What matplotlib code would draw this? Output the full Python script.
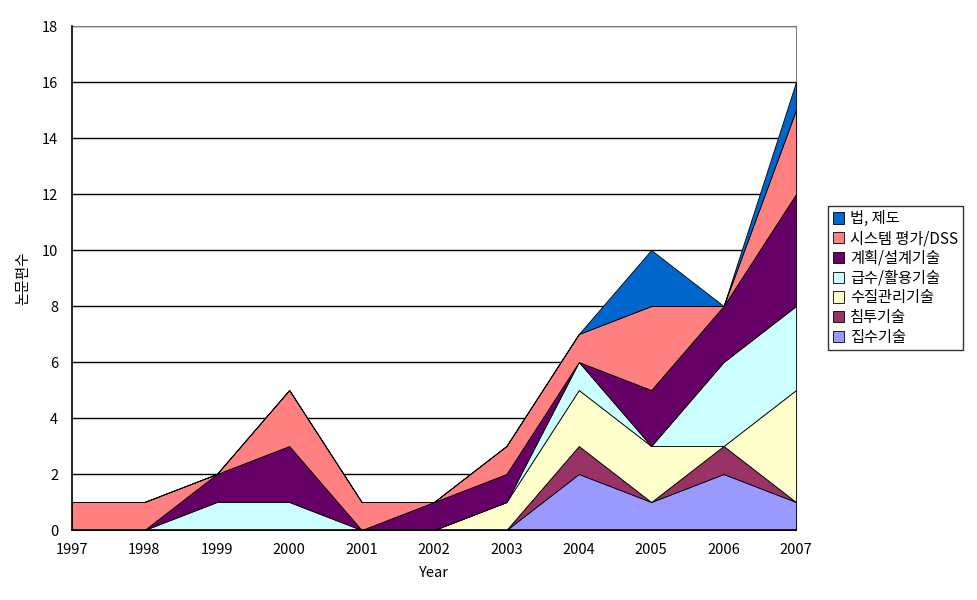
import numpy as np
import matplotlib.pyplot as plt

plt.rcParams['font.family'] = ['Noto Sans CJK KR', 'DejaVu Sans']

years = [1997, 1998, 1999, 2000, 2001, 2002, 2003, 2004, 2005, 2006, 2007]

jipsu = [0, 0, 0, 0, 0, 0, 0, 2, 1, 2, 1]        # 집수기술
chimtu = [0, 0, 0, 0, 0, 0, 0, 1, 0, 1, 0]       # 침투기술
sujil = [0, 0, 0, 0, 0, 0, 1, 2, 2, 0, 4]        # 수질관리기술
geupsu = [0, 0, 1, 1, 0, 0, 0, 1, 0, 3, 3]       # 급수/활용기술
gyehoek = [0, 0, 1, 2, 0, 1, 1, 0, 2, 2, 4]      # 계획/설계기술
system = [1, 1, 0, 2, 1, 0, 1, 1, 3, 0, 3]       # 시스템 평가/DSS
beop = [0, 0, 0, 0, 0, 0, 0, 0, 2, 0, 1]         # 법, 제도

series = [jipsu, chimtu, sujil, geupsu, gyehoek, system, beop]
labels = ['집수기술', '침투기술', '수질관리기술', '급수/활용기술',
          '계획/설계기술', '시스템 평가/DSS', '법, 제도']
colors = ['#9999FF', '#993366', '#FFFFCC', '#CCFFFF',
          '#660066', '#FF8080', '#0066CC']

fig = plt.figure(figsize=(9.77, 6), dpi=100)
ax = fig.add_axes([72 / 977, 70 / 600, 724 / 977, 504 / 600])

polys = ax.stackplot(years, *series, labels=labels, colors=colors,
                     edgecolor='black', linewidth=0.6, zorder=3)

ax.set_xlim(1997, 2007)
ax.set_ylim(0, 18)
ax.set_yticks(range(0, 19, 2))
ax.set_xticks(years)
ax.yaxis.grid(True, color='black', linewidth=1, zorder=1)
ax.tick_params(axis='both', direction='in', length=4, labelsize=10.5, colors='black')
ax.tick_params(axis='y', length=0, pad=10)
ax.tick_params(axis='x', pad=9)

for s in ['top', 'right']:
    ax.spines[s].set_color('#808080')
for s in ['left', 'bottom']:
    ax.spines[s].set_linewidth(1.2)
    ax.spines[s].set_zorder(5)

ax.set_xlabel('Year', fontsize=10.5, labelpad=7)
ax.set_ylabel('논문편수', fontsize=10.5)
ax.yaxis.set_label_coords(-0.058, 0.5)

handles, labs = ax.get_legend_handles_labels()
leg = ax.legend(handles[::-1], labs[::-1], loc='center left',
                bbox_to_anchor=(828 / 977, 1 - 278 / 600),
                bbox_transform=fig.transFigure,
                frameon=True, fancybox=False, shadow=False,
                fontsize=11, handlelength=0.75, handleheight=0.75,
                handletextpad=0.4, labelspacing=0.18, borderpad=0.3,
                borderaxespad=0)
leg.get_frame().set_edgecolor('black')
leg.get_frame().set_linewidth(1)

fig.savefig('out.png', dpi=100, facecolor='white')
